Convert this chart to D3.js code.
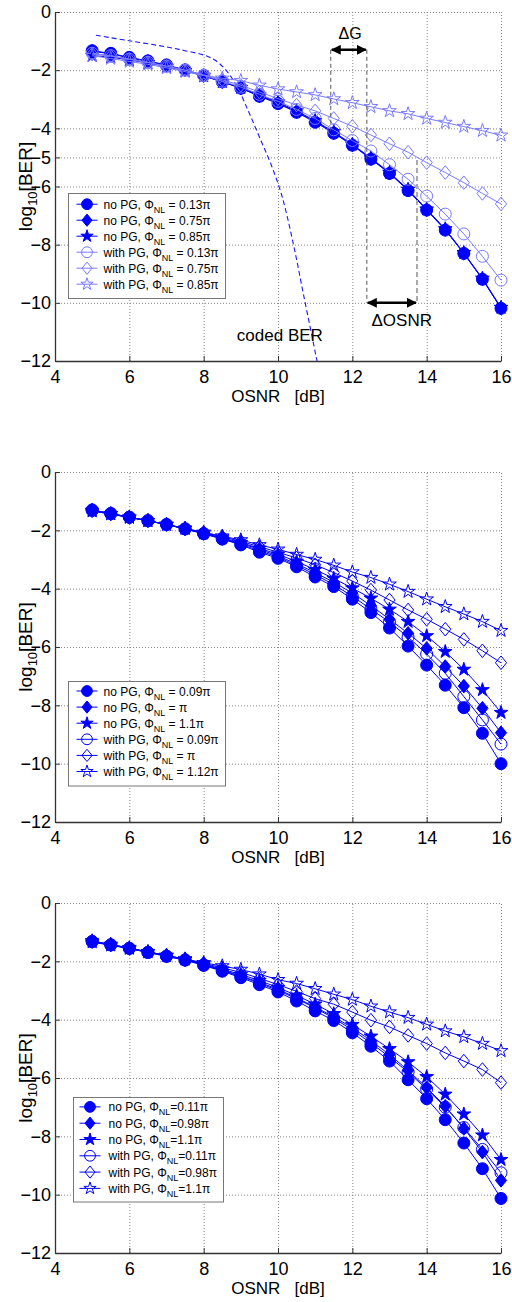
<!DOCTYPE html>
<html>
<head>
<meta charset="utf-8">
<script src="https://cdn.jsdelivr.net/npm/d3@7"></script>
<style>
body { margin: 0; background: #fff; }
text { font-family: "Liberation Sans", Arial, sans-serif; }
</style>
</head>
<body>
<div id="chart"></div>
<script>
// OSNR sample points [dB]
const osnr = [5, 5.5, 6, 6.5, 7, 7.5, 8, 8.5, 9, 9.5, 10, 10.5, 11, 11.5, 12, 12.5, 13, 13.5, 14, 14.5, 15, 15.5, 16];

// panel 1: log10(BER)
const p1NoPGa = [-1.33, -1.42, -1.56, -1.68, -1.82, -1.99, -2.18, -2.40, -2.62, -2.90, -3.15, -3.45, -3.79, -4.17, -4.58, -5.06, -5.55, -6.14, -6.81, -7.50, -8.30, -9.19, -10.19];
const p1NoPGb = [-1.35, -1.44, -1.58, -1.70, -1.84, -2.00, -2.19, -2.40, -2.62, -2.88, -3.13, -3.43, -3.76, -4.15, -4.57, -5.04, -5.54, -6.12, -6.80, -7.48, -8.30, -9.18, -10.18];
const p1NoPGc = [-1.50, -1.55, -1.65, -1.75, -1.88, -2.02, -2.20, -2.40, -2.60, -2.86, -3.10, -3.40, -3.74, -4.12, -4.55, -5.02, -5.52, -6.10, -6.78, -7.46, -8.28, -9.16, -10.16];
const p1PGa = [-1.42, -1.50, -1.62, -1.73, -1.86, -2.00, -2.18, -2.38, -2.58, -2.83, -3.07, -3.35, -3.66, -4.05, -4.42, -4.78, -5.25, -5.75, -6.33, -6.95, -7.63, -8.40, -9.22];
const p1PGb = [-1.45, -1.52, -1.63, -1.74, -1.87, -2.00, -2.16, -2.33, -2.52, -2.75, -2.98, -3.20, -3.40, -3.66, -3.93, -4.23, -4.53, -4.82, -5.18, -5.52, -5.87, -6.24, -6.60];
const p1PGc = [-1.50, -1.60, -1.70, -1.80, -1.92, -2.05, -2.18, -2.28, -2.36, -2.52, -2.65, -2.75, -2.85, -2.99, -3.12, -3.26, -3.40, -3.50, -3.66, -3.80, -3.94, -4.08, -4.24];

// panel 1: coded BER curve
const codedOsnr = [5.1, 6, 7, 7.5, 8, 8.3, 8.6, 8.9, 9.2, 9.5, 9.8, 10.1, 10.4, 10.7, 11.05];
const codedBer = [-0.8, -0.99, -1.2, -1.33, -1.48, -1.65, -2.0, -2.57, -3.4, -4.3, -5.2, -6.3, -7.9, -9.8, -12];

// panel 2
const p2NoPGa = [-1.30, -1.42, -1.55, -1.67, -1.80, -1.95, -2.12, -2.30, -2.50, -2.75, -2.96, -3.25, -3.60, -3.93, -4.36, -4.82, -5.35, -5.97, -6.62, -7.31, -8.08, -8.96, -10.00];
const p2NoPGb = [-1.31, -1.43, -1.55, -1.67, -1.80, -1.95, -2.11, -2.28, -2.45, -2.65, -2.88, -3.15, -3.45, -3.78, -4.15, -4.58, -5.05, -5.53, -6.05, -6.67, -7.34, -8.10, -8.94];
const p2NoPGc = [-1.32, -1.43, -1.55, -1.67, -1.80, -1.94, -2.10, -2.26, -2.42, -2.62, -2.82, -3.07, -3.35, -3.65, -3.98, -4.33, -4.71, -5.13, -5.62, -6.16, -6.77, -7.47, -8.25];
const p2PGa = [-1.32, -1.43, -1.55, -1.67, -1.80, -1.95, -2.11, -2.29, -2.48, -2.70, -2.92, -3.20, -3.52, -3.86, -4.26, -4.70, -5.15, -5.66, -6.24, -6.90, -7.70, -8.50, -9.33];
const p2PGb = [-1.33, -1.44, -1.56, -1.67, -1.80, -1.94, -2.08, -2.22, -2.38, -2.56, -2.75, -2.95, -3.18, -3.45, -3.74, -4.05, -4.39, -4.73, -5.05, -5.39, -5.74, -6.13, -6.54];
const p2PGc = [-1.34, -1.44, -1.56, -1.67, -1.80, -1.93, -2.07, -2.20, -2.33, -2.50, -2.65, -2.83, -3.00, -3.20, -3.43, -3.62, -3.85, -4.10, -4.36, -4.62, -4.87, -5.13, -5.44];

// panel 3
const p3NoPGa = [-1.32, -1.44, -1.56, -1.70, -1.83, -1.96, -2.14, -2.34, -2.56, -2.80, -3.05, -3.36, -3.70, -4.03, -4.45, -4.91, -5.42, -6.06, -6.71, -7.43, -8.23, -9.11, -10.13];
const p3NoPGb = [-1.31, -1.43, -1.55, -1.68, -1.81, -1.94, -2.11, -2.30, -2.50, -2.72, -2.96, -3.25, -3.57, -3.90, -4.28, -4.72, -5.20, -5.74, -6.33, -6.97, -7.73, -8.54, -9.51];
const p3NoPGc = [-1.30, -1.42, -1.54, -1.67, -1.80, -1.93, -2.09, -2.27, -2.45, -2.66, -2.90, -3.17, -3.47, -3.80, -4.17, -4.57, -5.00, -5.45, -5.96, -6.56, -7.24, -7.96, -8.80];
const p3PGa = [-1.32, -1.43, -1.55, -1.69, -1.82, -1.95, -2.12, -2.32, -2.52, -2.75, -3.00, -3.28, -3.60, -3.95, -4.35, -4.80, -5.28, -5.80, -6.38, -7.00, -7.70, -8.45, -9.25];
const p3PGb = [-1.33, -1.44, -1.56, -1.68, -1.80, -1.93, -2.07, -2.22, -2.38, -2.58, -2.80, -3.03, -3.28, -3.47, -3.74, -4.02, -4.25, -4.54, -4.82, -5.14, -5.42, -5.71, -6.16];
const p3PGc = [-1.34, -1.45, -1.56, -1.68, -1.80, -1.92, -2.05, -2.16, -2.28, -2.44, -2.63, -2.76, -2.94, -3.13, -3.31, -3.54, -3.74, -3.93, -4.16, -4.39, -4.59, -4.82, -5.07];

// axis ticks
const xTicks = [4, 6, 8, 10, 12, 14, 16];
const yTicks1 = [0, -2, -4, -5, -6, -8, -10, -12];
const yTicks = [0, -2, -4, -6, -8, -10, -12];

// legend labels: prefix, phase value
const legendPrefix = ["no PG, Φ", "no PG, Φ", "no PG, Φ", "with PG, Φ", "with PG, Φ", "with PG, Φ"];
const legendPhase1 = [" = 0.13π", " = 0.75π", " = 0.85π", " = 0.13π", " = 0.75π", " = 0.85π"];
const legendPhase2 = [" = 0.09π", " = π", " = 1.1π", " = 0.09π", " = π", " = 1.12π"];
const legendPhase3 = ["=0.11π", "=0.98π", "=1.1π", "=0.11π", "=0.98π", "=1.1π"];

// marker style per series (same order in every panel)
const shapes = ["circle", "diamond", "star", "circle", "diamond", "star"];
const filled = [true, true, true, false, false, false];

// panel 1 annotations, in data units
const deltaG = { x0: 11.42, x1: 12.39, y: -1.3, yLeftEnd: -4.1, yRightEnd: -10 };
const deltaOSNR = { x0: 12.39, x1: 13.74, y: -10, yTop: -5.09 };

const W = 512, H = 1302;
const svg = d3.select("#chart").append("svg")
    .attr("width", W)
    .attr("height", H)
    .style("background", "#fff");

const defs = svg.append("defs");
defs.append("marker")
    .attr("id", "arrowHead")
    .attr("viewBox", "0 0 10 10")
    .attr("refX", 9).attr("refY", 5)
    .attr("markerUnits", "userSpaceOnUse")
    .attr("markerWidth", 10).attr("markerHeight", 10)
    .attr("orient", "auto-start-reverse")
    .append("path")
    .attr("d", "M0,0 L10,5 L0,10 Z")
    .attr("fill", "#000");

const x = d3.scaleLinear().domain([4, 16]).range([55, 501]);

function diamondPath(hw, hh) {
    return `M0,${-hh}L${hw},0L0,${hh}L${-hw},0Z`;
}

function markerPath(shape, small) {
    const k = small ? 0.9 : 1;
    if (shape === "circle") return d3.symbol(d3.symbolCircle, 113 * k * k)();
    if (shape === "diamond") return diamondPath(5.6 * k, 6.8 * k);
    return d3.symbol(d3.symbolStar, 58 * k * k)();
}

function drawPanel(cfg) {
    const top = cfg.top, bottom = cfg.bottom;
    const y = d3.scaleLinear().domain([-12, 0]).range([bottom, top]);
    const g = svg.append("g");

    // grid
    g.append("g")
        .attr("transform", `translate(0,${bottom})`)
        .call(d3.axisBottom(x).tickValues(xTicks.slice(1)).tickSize(-(bottom - top)).tickFormat(""))
        .call(s => s.select(".domain").remove())
        .selectAll("line")
        .attr("stroke", "#888")
        .attr("stroke-dasharray", "1,2");
    g.append("g")
        .attr("transform", `translate(${x(4)},0)`)
        .call(d3.axisLeft(y).tickValues(cfg.yTicks.slice(0, -1)).tickSize(-(x(16) - x(4))).tickFormat(""))
        .call(s => s.select(".domain").remove())
        .selectAll("line")
        .attr("stroke", "#888")
        .attr("stroke-dasharray", "1,2");

    // axes
    const xa = g.append("g")
        .attr("transform", `translate(0,${bottom})`)
        .call(d3.axisBottom(x).tickValues(xTicks).tickSize(-5).tickSizeOuter(0).tickPadding(9));
    const ya = g.append("g")
        .attr("transform", `translate(${x(4)},0)`)
        .call(d3.axisLeft(y).tickValues(cfg.yTicks).tickSize(-5).tickSizeOuter(0).tickPadding(4));
    [xa, ya].forEach(a => {
        a.select(".domain").attr("stroke", "#333").attr("stroke-width", 1.3);
        a.selectAll(".tick line").attr("stroke", "#333");
        a.selectAll("text").attr("font-size", 18).attr("fill", "#000")
            .style("font-family", "'Liberation Sans', Arial, sans-serif");
    });

    // axis labels
    g.append("text")
        .attr("x", x(10)).attr("y", bottom + 41)
        .attr("text-anchor", "middle")
        .attr("font-size", 17)
        .style("white-space", "pre")
        .text("OSNR   [dB]");
    const yl = g.append("text")
        .attr("transform", `translate(32,${(top + bottom) / 2}) rotate(-90)`)
        .attr("text-anchor", "middle")
        .attr("font-size", 19);
    yl.append("tspan").text("log");
    yl.append("tspan").attr("font-size", 13).attr("dy", 5).text("10");
    yl.append("tspan").attr("dy", -5).text("[BER]");

    const line = d3.line().x((d, i) => x(osnr[i])).y(d => y(d));

    // coded BER reference curve
    if (cfg.coded) {
        g.append("path")
            .datum(codedBer)
            .attr("d", d3.line().x((d, i) => x(codedOsnr[i])).y(d => y(d)).curve(d3.curveCatmullRom))
            .attr("fill", "none")
            .attr("stroke", "#1a1aff")
            .attr("stroke-width", 1.1)
            .attr("stroke-dasharray", "5,3");
    }

    cfg.series.forEach((vals, si) => {
        const col = filled[si] ? "#0000ff" : cfg.openColor;
        g.append("path")
            .datum(vals)
            .attr("d", line)
            .attr("fill", "none")
            .attr("stroke", col)
            .attr("stroke-width", 1);
        g.selectAll(null)
            .data(vals)
            .enter()
            .append("path")
            .attr("transform", (d, i) => `translate(${x(osnr[i])},${y(d)})`)
            .attr("d", markerPath(shapes[si], false))
            .attr("fill", filled[si] ? "#0000ff" : "none")
            .attr("stroke", col)
            .attr("stroke-width", 1);
    });

    // annotations (panel 1)
    if (cfg.annot) {
        const a = g.append("g");
        a.append("line")
            .attr("x1", x(deltaG.x0)).attr("x2", x(deltaG.x0))
            .attr("y1", y(deltaG.y)).attr("y2", y(deltaG.yLeftEnd))
            .attr("stroke", "#555").attr("stroke-dasharray", "4,3");
        a.append("line")
            .attr("x1", x(deltaG.x1)).attr("x2", x(deltaG.x1))
            .attr("y1", y(deltaG.y)).attr("y2", y(deltaG.yRightEnd))
            .attr("stroke", "#555").attr("stroke-dasharray", "4,3");
        a.append("line")
            .attr("x1", x(deltaOSNR.x1)).attr("x2", x(deltaOSNR.x1))
            .attr("y1", y(deltaOSNR.yTop)).attr("y2", y(deltaOSNR.y))
            .attr("stroke", "#aaa").attr("stroke-width", 2).attr("stroke-dasharray", "5,3");
        a.append("line")
            .attr("x1", x(deltaG.x0) + 1).attr("x2", x(deltaG.x1) - 1)
            .attr("y1", y(deltaG.y)).attr("y2", y(deltaG.y))
            .attr("stroke", "#000").attr("stroke-width", 2.5)
            .attr("marker-start", "url(#arrowHead)").attr("marker-end", "url(#arrowHead)");
        a.append("line")
            .attr("x1", x(deltaOSNR.x0) + 1).attr("x2", x(deltaOSNR.x1) - 1)
            .attr("y1", y(deltaOSNR.y)).attr("y2", y(deltaOSNR.y))
            .attr("stroke", "#000").attr("stroke-width", 2.5)
            .attr("marker-start", "url(#arrowHead)").attr("marker-end", "url(#arrowHead)");
        a.append("text")
            .attr("x", x(11.94)).attr("y", y(-0.93))
            .attr("text-anchor", "middle").attr("font-size", 16)
            .text("ΔG");
        a.append("text")
            .attr("x", x(13.33)).attr("y", y(-10.79))
            .attr("text-anchor", "middle").attr("font-size", 17)
            .text("ΔOSNR");
        a.append("text")
            .attr("x", x(10.05)).attr("y", y(-11.3))
            .attr("text-anchor", "middle").attr("font-size", 17)
            .text("coded BER");
    }

    // legend
    const L = cfg.legend;
    const lg = g.append("g").attr("transform", `translate(${L.x},${top + L.y})`);
    lg.append("rect")
        .attr("width", L.w).attr("height", L.h)
        .attr("fill", "#fff")
        .attr("stroke", "#777")
        .attr("stroke-width", 1);
    cfg.labels.forEach((lab, i) => {
        const ry = L.first + i * L.step;
        const col = filled[i] ? "#0000ff" : cfg.openColor;
        lg.append("line")
            .attr("x1", L.lx0).attr("x2", L.lx1)
            .attr("y1", ry).attr("y2", ry)
            .attr("stroke", col);
        lg.append("path")
            .attr("transform", `translate(${(L.lx0 + L.lx1) / 2},${ry})`)
            .attr("d", markerPath(shapes[i], true))
            .attr("fill", filled[i] ? "#0000ff" : "none")
            .attr("stroke", col);
        const t = lg.append("text")
            .attr("x", L.tx).attr("y", ry + 4.5)
            .attr("font-size", 12);
        t.append("tspan").text(legendPrefix[i]);
        t.append("tspan").attr("font-size", 9).attr("dy", 4).text("NL");
        t.append("tspan").attr("dy", -4).style("white-space", "pre").text(lab);
    });
}

drawPanel({
    top: 12, bottom: 361, yTicks: yTicks1,
    series: [p1NoPGa, p1NoPGb, p1NoPGc, p1PGa, p1PGb, p1PGc],
    openColor: "#7a7aff", coded: true, annot: true,
    labels: legendPhase1,
    legend: { x: 68.5, y: 181.5, w: 157, h: 105, first: 10.7, step: 16, lx0: 8, lx1: 29, tx: 35 }
});
drawPanel({
    top: 472, bottom: 822, yTicks: yTicks,
    series: [p2NoPGa, p2NoPGb, p2NoPGc, p2PGa, p2PGb, p2PGc],
    openColor: "#0000ff",
    labels: legendPhase2,
    legend: { x: 68.5, y: 209.5, w: 157, h: 104.5, first: 9.5, step: 16.1, lx0: 8, lx1: 29, tx: 35 }
});
drawPanel({
    top: 903, bottom: 1253, yTicks: yTicks,
    series: [p3NoPGa, p3NoPGb, p3NoPGc, p3PGa, p3PGb, p3PGc],
    openColor: "#0000ff",
    labels: legendPhase3,
    legend: { x: 73.5, y: 194.5, w: 150, h: 104.5, first: 9.4, step: 16.3, lx0: 6, lx1: 27, tx: 35 }
});
</script>
</body>
</html>
